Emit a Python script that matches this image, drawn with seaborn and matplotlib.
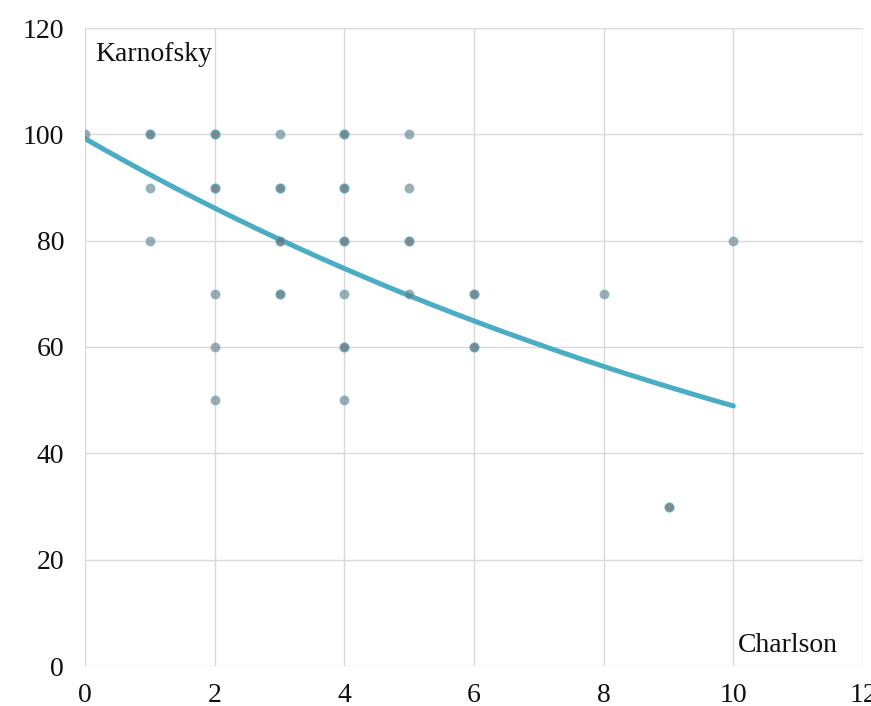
"""
Karnofsky vs Charlson scatter with exponential trendline
"""
import numpy as np
import pandas as pd
import matplotlib
matplotlib.use("Agg")
import matplotlib.pyplot as plt
import seaborn as sns

# data (darker dots = overlapping patients, count 2)
charlson = [0, 1, 1, 1, 2, 2, 2, 2, 2, 3, 3, 3, 3,
            4, 4, 4, 4, 4, 4, 5, 5, 5, 5, 6, 6, 8, 9, 10]
karnofsky = [100, 100, 90, 80, 100, 90, 70, 60, 50, 100, 90, 80, 70,
             100, 90, 80, 70, 60, 50, 100, 90, 80, 70, 70, 60, 70, 30, 80]
overlap = [1, 2, 1, 1, 2, 2, 1, 1, 1, 1, 2, 2, 2,
           2, 2, 2, 1, 2, 1, 1, 1, 2, 1, 2, 2, 1, 2, 1]

# exponential trendline y = a * exp(b * x)
trend_a = 99.2
trend_b = -0.0707
trend_range = [0, 10]

x_ticks = [0, 2, 4, 6, 8, 10, 12]
y_ticks = [0, 20, 40, 60, 80, 100, 120]

sns.set_theme(style="white")
plt.rcParams['font.family'] = ['Liberation Serif', 'DejaVu Serif']

df = pd.DataFrame({'Charlson': charlson, 'Karnofsky': karnofsky, 'n': overlap})
df = df.loc[df.index.repeat(df['n'])].reset_index(drop=True)

xs = np.linspace(trend_range[0], trend_range[1], 200)
trend = pd.DataFrame({'Charlson': xs, 'Karnofsky': trend_a * np.exp(trend_b * xs)})

fig = plt.figure(figsize=(8.71, 7.06), dpi=100)
ax = fig.add_axes([85 / 871, 1 - 666 / 706, (863 - 85) / 871, (666 - 28) / 706])

sns.scatterplot(data=df, x='Charlson', y='Karnofsky', ax=ax, s=40,
                color='#66757c', edgecolor='#5aaec6', linewidth=0.9,
                alpha=0.6, zorder=3)
sns.lineplot(data=trend, x='Charlson', y='Karnofsky', ax=ax,
             color='#4bacc6', linewidth=3.6, zorder=2)

ax.set_xlim(0, 12)
ax.set_ylim(0, 120)
ax.set_xticks(x_ticks)
ax.set_yticks(y_ticks)
ax.grid(True, color='#d9d9d9', linewidth=1.0)
ax.set_axisbelow(True)
for s in ax.spines.values():
    s.set_visible(False)
ax.tick_params(axis='both', length=0, labelsize=20, colors='#111111')
ax.tick_params(axis='x', pad=12)
ax.tick_params(axis='y', pad=15)
ax.set_xlabel('')
ax.set_ylabel('')

ax.text(0.0125, 0.978, 'Karnofsky', transform=ax.transAxes, fontsize=20,
        ha='left', va='top', color='#111111')
ax.text(0.968, 0.012, 'Charlson', transform=ax.transAxes, fontsize=20,
        ha='right', va='bottom', color='#111111')

fig.savefig('out.png', dpi=100)
